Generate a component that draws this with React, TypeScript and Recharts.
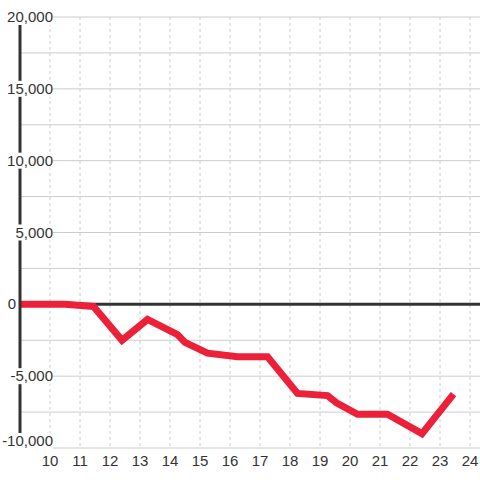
import { CartesianGrid, Line, LineChart, ReferenceLine, XAxis, YAxis } from "recharts";

const positions = [9, 10.5, 11.45, 12.4, 13.25, 14.25, 14.5, 15.25, 16.25, 17.25, 18.25, 19.25, 19.55, 20.25, 21.25, 22.4, 23.45];
const balances = [0, 0, -150, -2500, -1050, -2100, -2650, -3400, -3650, -3650, -6200, -6350, -6850, -7650, -7650, -9000, -6250];
const xTicks = [10, 11, 12, 13, 14, 15, 16, 17, 18, 19, 20, 21, 22, 23, 24];
const yTicks = [-10000, -5000, 0, 5000, 10000, 15000, 20000];
const yGrid = [-10000, -7500, -5000, -2500, 0, 2500, 5000, 7500, 10000, 12500, 15000, 17500, 20000];

const data = positions.map((x, i) => ({ x, value: balances[i] }));

const FONT = "'Liberation Sans', Arial, sans-serif";

function YTick({ x, y, payload, index }: { x?: number; y?: number; payload?: { value: number }; index?: number }) {
  if (x == null || y == null || !payload) return null;
  const label = payload.value.toLocaleString("en-US");
  const w = label.length * 8.3 + 2;
  // zero label sits left of the axis so it doesn't cover the series
  const right = payload.value === 0 ? x - 4 : x + 33;
  // bottom label is nudged up to clear the x-axis labels
  const cy = index === 0 ? y - 7 : y;
  return (
    <g>
      <rect x={right - w} y={cy - 8} width={w} height={index === 0 ? 23 : 16} fill="#fff" />
      <text x={right} y={cy} dy={5} textAnchor="end" fontSize={15} fill="#333" fontFamily={FONT}>
        {label}
      </text>
    </g>
  );
}

export default function App() {
  return (
    <div style={{ position: "absolute", left: 0, top: 0, width: 480, height: 480, background: "#fff" }}>
      <LineChart width={480} height={480} data={data} margin={{ top: 17, right: 0, bottom: 0, left: 0 }}>
        <CartesianGrid horizontal={true} vertical={false} horizontalValues={yGrid} stroke="#ccc" />
        <CartesianGrid horizontal={false} vertical={true} verticalValues={xTicks} stroke="#ccc" strokeDasharray="3 3" />
        <XAxis
          dataKey="x"
          type="number"
          domain={[9, 24.333]}
          ticks={xTicks}
          axisLine={false}
          tickLine={false}
          height={32}
          tickMargin={1}
          tick={{ fontSize: 15, fill: "#333", fontFamily: FONT }}
          allowDataOverflow
        />
        <YAxis
          type="number"
          domain={[-10000, 20000]}
          ticks={yTicks}
          width={20}
          axisLine={{ stroke: "#333", strokeWidth: 3 }}
          tickLine={false}
          tickSize={0}
          tickMargin={0}
          tick={<YTick />}
        />
        <ReferenceLine y={0} stroke="#333" strokeWidth={3} />
        <Line
          type="linear"
          dataKey="value"
          stroke="#ec2039"
          strokeWidth={7}
          dot={false}
          isAnimationActive={false}
        />
      </LineChart>
    </div>
  );
}
